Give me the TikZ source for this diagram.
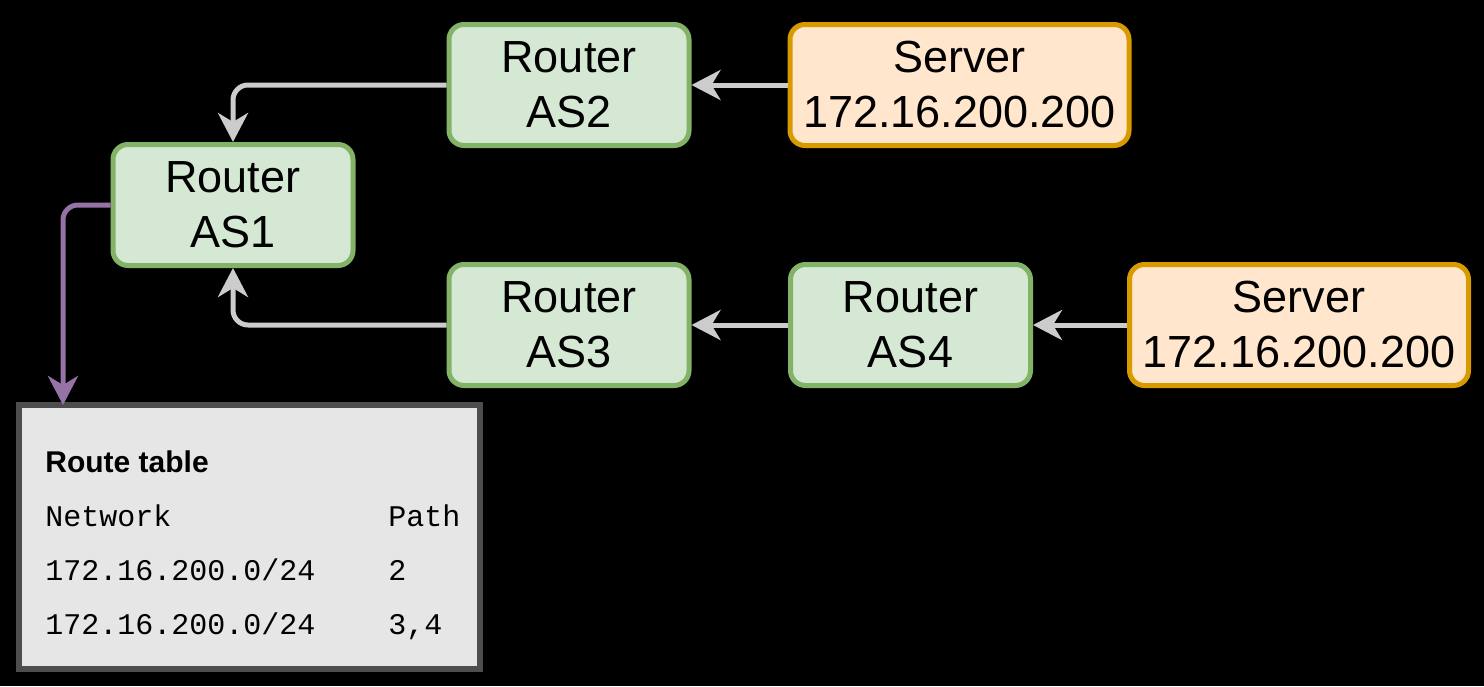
\documentclass[tikz,border=0pt]{standalone}
\usepackage{fontspec}
\setmainfont{Liberation Sans}
\setmonofont{Liberation Mono}
\usepackage{tikz}
\usetikzlibrary{arrows.meta}

\definecolor{routerfill}{HTML}{D5E8D4}
\definecolor{routerline}{HTML}{82B366}
\definecolor{serverfill}{HTML}{FFE6CC}
\definecolor{serverline}{HTML}{D79B00}
\definecolor{linkgrey}{HTML}{CCCCCC}
\definecolor{lookup}{HTML}{9673A6}
\definecolor{tablefill}{HTML}{E6E6E6}
\definecolor{tableline}{HTML}{4D4D4D}

\begin{document}
\begin{tikzpicture}[x=0.5pt,y=-0.5pt,
  router/.style={draw=routerline,fill=routerfill,line width=2.5pt,rounded corners=7.5pt,
    minimum width=120pt,minimum height=60.5pt,inner sep=0pt,align=center,
    font=\fontsize{22.5}{27.5}\selectfont},
  server/.style={router,draw=serverline,fill=serverfill,minimum width=169.5pt},
  link/.style={draw=linkgrey,line width=2.5pt,rounded corners=7.5pt,
    -{Stealth[length=14.5pt,width=15pt,inset=4.5pt]}},
  lookupline/.style={link,draw=lookup},
  cell/.style={anchor=base west,inner sep=0pt,font=\ttfamily\fontsize{15}{18}\selectfont}]
  \fill[black] (0,0) rectangle (1484,686);
  % routers and servers
  \node[router] (as1) at (233,205) {Router\\AS1};
  \node[router] (as2) at (569,85) {Router\\AS2};
  \node[server] (srvA) at (959.5,85) {Server\\172.16.200.200};
  \node[router] (as3) at (569,325) {Router\\AS3};
  \node[router] (as4) at (910.5,325) {Router\\AS4};
  \node[server] (srvB) at (1299,325) {Server\\172.16.200.200};
  % route table of AS1
  \node[draw=tableline,fill=tablefill,line width=3pt,minimum width=230.5pt,
    minimum height=132pt,inner sep=0pt] (rtable) at (249.5,537) {};
  \node[anchor=base west,inner sep=0pt,font=\fontsize{15}{18}\selectfont\bfseries]
    (rtitle) at (45,472) {Route table};
  \foreach \ypos/\net/\via [count=\i] in
    {526/Network/Path, 580/{172.16.200.0/24}/2, 634/{172.16.200.0/24}/{3,4}} {
    \node[cell] (net\i) at (45,\ypos) {\net};
    \node[cell] (via\i) at (388,\ypos) {\via};
  }
  % announcements
  \draw[link] (srvA) -- (as2);
  \draw[link] (as2.west) -| (as1.north);
  \draw[link] (srvB) -- (as4);
  \draw[link] (as4) -- (as3);
  \draw[link] (as3.west) -| (as1.south);
  \coordinate (tabin) at (63,405);
  \draw[lookupline] (as1.west) -| (tabin);
\end{tikzpicture}
\end{document}
